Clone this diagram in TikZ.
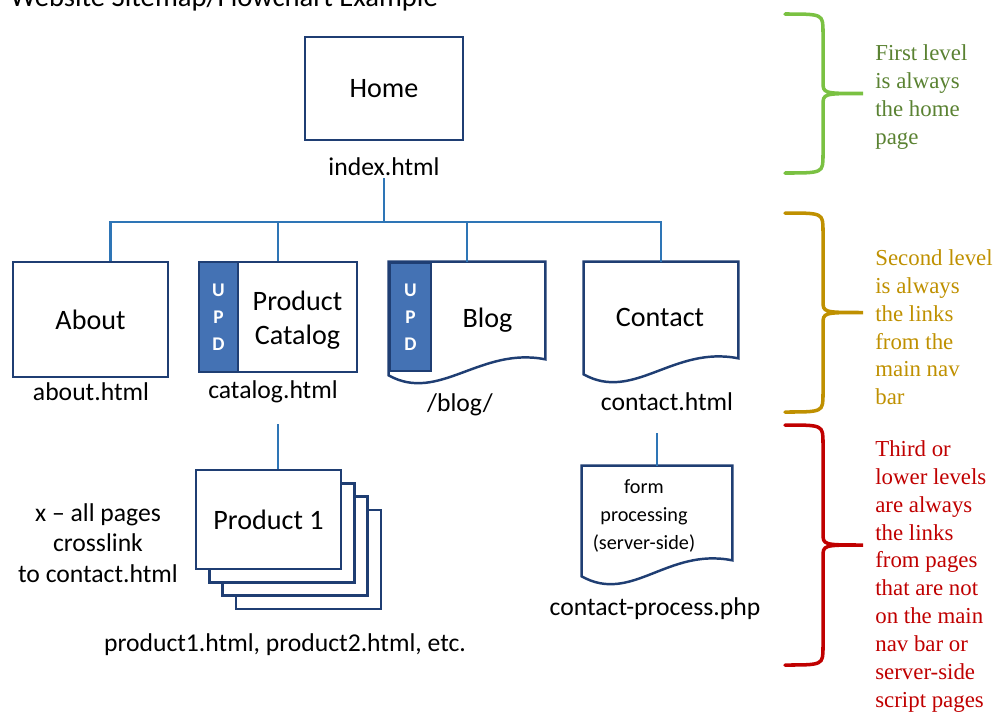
\documentclass[tikz,border=0pt]{standalone}
\usepackage{fontspec}
\setmainfont{Carlito}
\newfontfamily\notefont{Liberation Serif}
\usepackage{tikz}
\usetikzlibrary{
positioning,
calc
}
\definecolor{mapnavy}{HTML}{1F3E73}
\definecolor{mapblue}{HTML}{2E75B6}
\definecolor{mapstrip}{HTML}{4472B4}
\definecolor{lvlgreen}{HTML}{7AC142}
\definecolor{lvlgreentext}{HTML}{5A8232}
\definecolor{lvlgold}{HTML}{BF9000}
\definecolor{lvlred}{HTML}{C00000}

%% page outline with a wavy bottom edge (right end raised)
\newcommand{\docpage}[1]{%
  \filldraw[draw=mapnavy, fill=white, line width=1.4pt]
    (#1.north west) -- (#1.north east) -- ($(#1.south east)+(0,-16)$)
    .. controls ($(#1.south east)+(-65,-29)$) and ($(#1.south west)+(50,28)$)
    .. (#1.south west) -- cycle;
}
%% curly brace for a level: colour, top, bottom
\newcommand{\levelbrace}[3]{%
  \draw[#1, line width=2pt, line cap=round]
    (785,#2) .. controls (823,#2) .. (823,#2+18) -- (823,{(#2+#3)/2-12})
    .. controls (823,{(#2+#3)/2}) .. (863,{(#2+#3)/2})
    .. controls (823,{(#2+#3)/2}) .. (823,{(#2+#3)/2+12}) -- (823,#3-18)
    .. controls (823,#3) .. (785,#3);
}

\begin{document}
\begin{tikzpicture}[
  x=0.02cm, y=-0.02cm,
  page/.style={draw=mapnavy, line width=1.4pt, fill=white, align=center,
               font=\fontsize{16}{19.5}\selectfont},
  docnode/.style={inner sep=0pt, align=center, font=\fontsize{16}{19.5}\selectfont},
  stripbox/.style={draw=mapnavy, line width=1.4pt, fill=mapstrip, text=white,
                   align=center, inner sep=0pt,
                   font=\bfseries\fontsize{11}{15.4}\selectfont},
  fname/.style={font=\fontsize{14.6}{17.4}\selectfont, inner sep=1pt, align=center},
  link/.style={draw=mapblue, line width=1.6pt},
  note/.style={anchor=north west, inner sep=0pt, align=left,
               font=\notefont\fontsize{13}{15.9}\selectfont}
]
\useasboundingbox (0,0) rectangle (998,711);

%% Title (cut at the top)
\node[anchor=base west, inner sep=0pt, font=\fontsize{16.3}{19}\selectfont]
  (title) at (10,6) {Website Sitemap/Flowchart Example};

%% First level
\node[page, minimum width=3.16cm, minimum height=2.06cm] (home) at (384,88.5) {Home};
\node[fname] (homefile) at (384,167) {index.html};
\coordinate (bus) at (384,222);

%% Second level
\node[page, minimum width=3.1cm, minimum height=2.3cm] (about) at (90.5,319.5) {About};
\node[fname] (aboutfile) at (91,392) {about.html};

\node[page, minimum width=3.16cm, minimum height=2.2cm] (cat) at (278,317) {};
\node[stripbox, minimum width=0.78cm, minimum height=2.2cm, anchor=north west]
  (catupd) at (cat.north west) {U\\P\\D};
\node[docnode] (catname) at (297.5,320) {Product\\Catalog};
\node[fname] (catfile) at (273,392) {catalog.html};

\node[docnode, minimum width=3.12cm, minimum height=2.26cm] (blog) at (467,318.5) {};
\docpage{blog}
\node[stripbox, minimum width=0.82cm, minimum height=2.16cm, anchor=north west]
  (blogupd) at (blog.north west) {U\\P\\D};
\node[docnode] (blogname) at (487.5,320) {Blog};
\node[fname] (blogfile) at (460,405) {/blog/};

\node[docnode, minimum width=3.08cm, minimum height=2.24cm] (contact) at (661,318) {};
\docpage{contact}
\node[docnode] (contactname) at (660,317) {Contact};
\node[fname] (contactfile) at (667,402) {contact.html};

%% Connectors from home
\draw[link] (homefile.south) -- (bus);
\draw[link] ($(about.north)+(20,0)$) |- (bus) -| (contact.north);
\draw[link] (cat.north) -- (cat.north |- bus);
\draw[link] (blog.north) -- (blog.north |- bus);

%% Third level: product pages
\foreach \k in {3,2,1}
  \node[page, minimum width=2.9cm, minimum height=1.98cm]
    (stack\k) at (268.5+13.3*\k,519.5+13.3*\k) {};
\node[page, minimum width=2.9cm, minimum height=1.98cm] (prod) at (268.5,519.5) {Product 1};
\node[fname] (prodfile) at (285,645) {product1.html, product2.html, etc.};
\node[fname, font=\fontsize{14.6}{17.4}\selectfont] (crossnote) at (98,543)
  {x -- all pages\\crosslink\\to contact.html};
\draw[link, shorten <=0.38cm] (catfile.south -| cat.north) -- (prod.north -| cat.north);

%% Third level: form processing
\node[docnode, minimum width=3.0cm, minimum height=2.2cm,
      font=\fontsize{11.5}{15.9}\selectfont] (form) at (657,521) {};
\docpage{form}
\node[docnode, font=\fontsize{11.5}{15.9}\selectfont] (formname) at (644,516)
  {form\\processing\\(server-side)};
\node[fname] (formfile) at (655,609) {contact-process.php};
\draw[link, shorten <=0.4cm] (contactfile.south -| form.north) -- (form.north);

%% Level braces and notes
\levelbrace{lvlgreen}{14}{173}
\levelbrace{lvlgold}{213}{412}
\levelbrace{lvlred}{425}{665}
\node[note, text=lvlgreentext] (firstnote) at (875,44)
  {First level\\is always\\the home\\page};
\node[note, text=lvlgold] (secondnote) at (875,249)
  {Second level\\is always\\the links\\from the\\main nav\\bar};
\node[note, text=lvlred] (thirdnote) at (875,440)
  {Third or\\lower levels\\are always\\the links\\from pages\\that are not\\on the main\\nav bar or\\server-side\\script pages};

\end{tikzpicture}
\end{document}
